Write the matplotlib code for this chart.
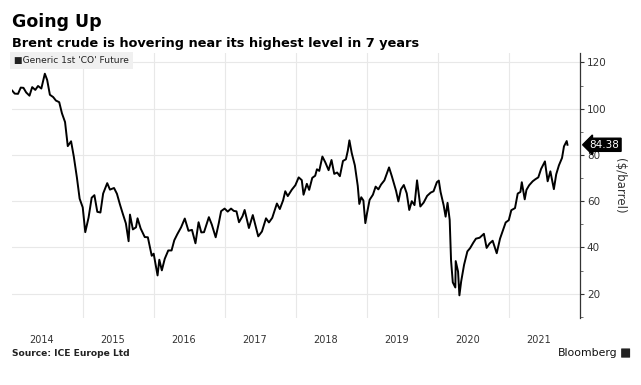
import pandas as pd
import matplotlib
matplotlib.use('Agg')
import matplotlib.pyplot as plt
from matplotlib.patches import FancyBboxPatch

# Brent crude, generic 1st 'CO' future ($/barrel)
dates = [
    '2014-01-02', '2014-01-15', '2014-02-01', '2014-02-15', '2014-03-01', '2014-03-15',
    '2014-04-01', '2014-04-15', '2014-05-01', '2014-05-15', '2014-06-01', '2014-06-19',
    '2014-07-01', '2014-07-15', '2014-08-01', '2014-08-15', '2014-09-01', '2014-09-15',
    '2014-10-01', '2014-10-15', '2014-11-01', '2014-11-15', '2014-12-01', '2014-12-15',
    '2014-12-31',
    '2015-01-13', '2015-01-30', '2015-02-15', '2015-03-01', '2015-03-16', '2015-04-01',
    '2015-04-15', '2015-05-06', '2015-05-20', '2015-06-10', '2015-06-25', '2015-07-10',
    '2015-07-25', '2015-08-10', '2015-08-24', '2015-08-31', '2015-09-15', '2015-10-01',
    '2015-10-09', '2015-10-25', '2015-11-15', '2015-12-01', '2015-12-21', '2015-12-31',
    '2016-01-20', '2016-01-29', '2016-02-11', '2016-02-26', '2016-03-15', '2016-04-01',
    '2016-04-15', '2016-05-01', '2016-05-20', '2016-06-08', '2016-06-27', '2016-07-15',
    '2016-08-02', '2016-08-18', '2016-09-01', '2016-09-15', '2016-10-10', '2016-10-25',
    '2016-11-14', '2016-11-30', '2016-12-12', '2016-12-30',
    '2017-01-15', '2017-02-01', '2017-02-15', '2017-03-01', '2017-03-14', '2017-04-01',
    '2017-04-12', '2017-05-04', '2017-05-24', '2017-06-21', '2017-07-10', '2017-07-31',
    '2017-08-15', '2017-09-01', '2017-09-25', '2017-10-10', '2017-10-27', '2017-11-07',
    '2017-11-20', '2017-12-11', '2017-12-29',
    '2018-01-15', '2018-01-31', '2018-02-09', '2018-02-26', '2018-03-10', '2018-03-26',
    '2018-04-10', '2018-04-19', '2018-05-01', '2018-05-17', '2018-06-01', '2018-06-18',
    '2018-07-03', '2018-07-17', '2018-08-01', '2018-08-15', '2018-08-31', '2018-09-15',
    '2018-09-25', '2018-10-03', '2018-10-15', '2018-10-31', '2018-11-15', '2018-11-23',
    '2018-12-03', '2018-12-14', '2018-12-24',
    '2019-01-02', '2019-01-15', '2019-02-01', '2019-02-15', '2019-03-01', '2019-03-15',
    '2019-04-01', '2019-04-25', '2019-05-10', '2019-05-31', '2019-06-12', '2019-06-25',
    '2019-07-10', '2019-07-25', '2019-08-07', '2019-08-20', '2019-09-03', '2019-09-16',
    '2019-10-03', '2019-10-20', '2019-11-07', '2019-11-25', '2019-12-10', '2019-12-27',
    '2020-01-06', '2020-01-15', '2020-01-31', '2020-02-10', '2020-02-20', '2020-03-02',
    '2020-03-09', '2020-03-18', '2020-03-31', '2020-04-02', '2020-04-14', '2020-04-21',
    '2020-04-30', '2020-05-15', '2020-06-01', '2020-06-15', '2020-07-01', '2020-07-15',
    '2020-08-03', '2020-08-25', '2020-09-08', '2020-09-23', '2020-10-09', '2020-10-30',
    '2020-11-16', '2020-12-01', '2020-12-15', '2020-12-31',
    '2021-01-13', '2021-02-01', '2021-02-15', '2021-03-01', '2021-03-08', '2021-03-23',
    '2021-04-01', '2021-04-15', '2021-05-03', '2021-05-17', '2021-06-01', '2021-06-15',
    '2021-07-05', '2021-07-19', '2021-08-02', '2021-08-20', '2021-09-01', '2021-09-15',
    '2021-10-01', '2021-10-11', '2021-10-25', '2021-10-29',
]
prices = [
    107.8, 106.5, 106.4, 109.1, 109.0, 107.0, 105.6, 109.3, 108.1, 109.8, 108.7, 115.1,
    112.4, 106.0, 105.0, 103.5, 102.8, 98.0, 94.2, 83.8, 85.9, 79.3, 70.2, 61.1, 57.3,
    46.6, 52.9, 61.5, 62.6, 55.4, 55.1, 63.3, 67.8, 65.0, 65.7, 63.2, 58.7, 54.6, 50.4,
    42.7, 54.2, 47.8, 48.7, 52.6, 48.2, 44.5, 44.4, 36.4, 37.3,
    27.9, 34.7, 30.1, 35.1, 38.7, 38.7, 43.1, 45.8, 48.7, 52.5, 47.2, 47.6, 41.8, 50.9,
    46.5, 46.6, 53.1, 49.9, 44.4, 50.5, 55.7, 56.8,
    55.5, 56.8, 55.8, 55.6, 50.9, 53.5, 56.2, 48.4, 54.0, 44.8, 46.9, 52.6, 50.8, 52.8,
    59.0, 56.6, 60.4, 64.3, 62.2, 65.0, 66.9,
    70.3, 69.1, 62.8, 67.5, 64.9, 70.1, 71.0, 73.8, 73.1, 79.3, 76.8, 73.4, 77.8, 71.8,
    72.4, 70.8, 77.4, 78.1, 81.9, 86.3, 80.8, 75.5, 66.6, 58.8, 61.7, 60.3, 50.5,
    54.9, 60.6, 62.8, 66.3, 65.1, 67.2, 69.0, 74.6, 70.6, 64.5, 59.9, 65.1, 67.0, 63.4,
    56.2, 60.0, 58.3, 69.0, 57.7, 59.4, 62.3, 63.7, 64.3, 68.2,
    68.9, 64.0, 58.2, 53.3, 59.3, 51.9, 34.4, 24.9, 22.7, 34.1, 29.6, 19.3, 25.3, 32.5,
    38.3, 39.7, 42.0, 43.8, 44.2, 45.9, 39.8, 41.7, 42.9, 37.5, 43.8, 47.4, 50.8, 51.8,
    56.1, 57.0, 63.3, 64.0, 68.2, 60.8, 64.9, 66.9, 68.6, 69.5, 70.3, 73.9, 77.2, 68.6,
    72.9, 65.2, 71.6, 75.5, 78.7, 83.7, 86.0, 84.38,
]
years = [2014, 2015, 2016, 2017, 2018, 2019, 2020, 2021]
yticks = [20, 40, 60, 80, 100, 120]

dates = pd.to_datetime(dates)

fig = plt.figure(figsize=(6.41, 3.85), dpi=100)
ax = fig.add_axes([0.0187, 0.174, 0.886, 0.688])

ax.plot(dates, prices, color='black', lw=1.4)

ax.set_xlim(pd.Timestamp('2014-01-01'), pd.Timestamp('2022-01-01'))
ax.set_ylim(9.5, 124)

# grid at year boundaries, labels near mid-year
ax.set_xticks([pd.Timestamp(f'{y}-01-01') for y in years[1:]] + [pd.Timestamp('2022-01-01')])
ax.set_xticklabels([])
ax.set_xticks([pd.Timestamp(f'{y}-06-01') for y in years], minor=True)
ax.set_xticklabels([str(y) for y in years], minor=True)
ax.tick_params(axis='x', which='both', length=0, labelsize=7, colors='#333333', pad=12)
ax.grid(axis='x', which='major', color='#e8e8e8', lw=0.8)

ax.yaxis.tick_right()
ax.set_yticks(yticks)
ax.set_yticks([10, 30, 50, 70, 90, 110], minor=True)
ax.tick_params(axis='y', which='major', length=3, direction='out', labelsize=7.5,
               colors='#333333', pad=2)
ax.tick_params(axis='y', which='minor', length=2, direction='out', colors='#555555')
ax.grid(axis='y', which='major', color='#e8e8e8', lw=0.8)
ax.set_axisbelow(True)

for side in ['left', 'top', 'bottom']:
    ax.spines[side].set_visible(False)
ax.spines['right'].set_color('#333333')
ax.spines['right'].set_linewidth(0.9)

ax.yaxis.set_label_position('right')
ax.set_ylabel('($/barrel)', rotation=-90, fontsize=8.5, color='#333333', labelpad=14)

# last value tag
ax.annotate(f'{prices[-1]:.2f}', xy=(1.0, prices[-1]), xycoords=('axes fraction', 'data'),
            xytext=(7, 0), textcoords='offset points', va='center', ha='left',
            fontsize=7.5, color='white',
            bbox=dict(boxstyle='larrow,pad=0.15', fc='black', ec='black'))

# legend tag
ax.text(0.004, 0.99, '\u25a0Generic 1st \'CO\' Future', transform=ax.transAxes,
        ha='left', va='top', fontsize=6.6, color='#222222',
        bbox=dict(boxstyle='square,pad=0.45', fc='#f0f0f0', ec='none'))

fig.text(0.0187, 0.943, 'Going Up', fontsize=12.5, fontweight='bold', ha='left', va='center')
fig.text(0.0187, 0.887, 'Brent crude is hovering near its highest level in 7 years',
         fontsize=9.3, fontweight='bold', ha='left', va='center')
fig.text(0.0187, 0.083, 'Source: ICE Europe Ltd', fontsize=6.6, fontweight='bold',
         ha='left', va='center', color='#222222')
fig.text(0.963, 0.083, 'Bloomberg', fontsize=7.8, ha='right', va='center', color='#111111')
fig.patches.append(FancyBboxPatch((0.970, 0.072), 0.012, 0.022, boxstyle='round,pad=0.001',
                                  transform=fig.transFigure, fc='#222222', ec='none'))

fig.savefig('out.png', dpi=100)
